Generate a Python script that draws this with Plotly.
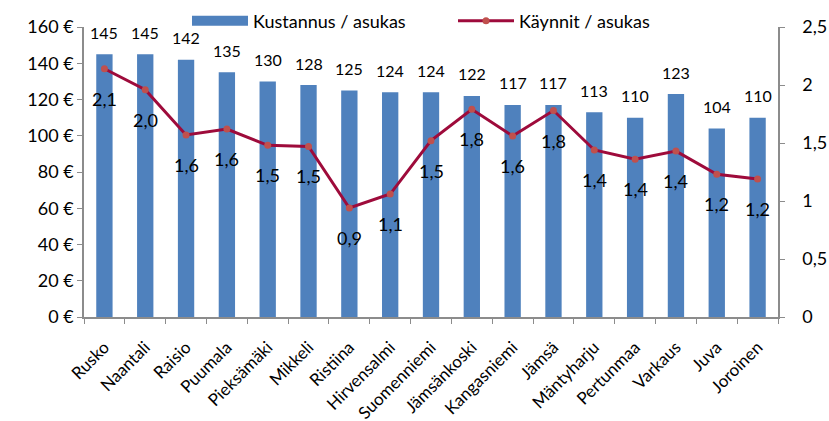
import plotly.graph_objects as go

# Municipalities and their per-resident figures
kunnat = ["Rusko", "Naantali", "Raisio", "Puumala", "Pieksämäki", "Mikkeli",
          "Ristiina", "Hirvensalmi", "Suomenniemi", "Jämsänkoski", "Kangasniemi",
          "Jämsä", "Mäntyharju", "Pertunmaa", "Varkaus", "Juva", "Joroinen"]
kustannus = [145, 145, 142, 135, 130, 128, 125, 124, 124, 122, 117, 117, 113, 110, 123, 104, 110]
kaynnit = [2.14, 1.96, 1.57, 1.62, 1.48, 1.47, 0.94, 1.06, 1.52, 1.79, 1.56, 1.78,
           1.44, 1.36, 1.43, 1.23, 1.19]

FONT = "Lato, 'Open Sans', sans-serif"
BAR_COLOR = "#4F81BD"
LINE_COLOR = "#9E0B3B"
MARKER_COLOR = "#C0504D"
AXIS_COLOR = "#8C8C8C"

fig = go.Figure()

fig.add_trace(go.Bar(
    x=kunnat, y=kustannus, name="Kustannus / asukas",
    marker=dict(color=BAR_COLOR, line=dict(width=0)),
    width=0.4, showlegend=False,
))

# Wide band swatch for the bar series in the legend (no visible points)
fig.add_trace(go.Scatter(
    x=[kunnat[0]], y=[None], name="Kustannus / asukas", mode="lines",
    line=dict(color=BAR_COLOR, width=10), hoverinfo="skip",
))

fig.add_trace(go.Scatter(
    x=kunnat, y=kaynnit, name="Käynnit / asukas", yaxis="y2",
    mode="lines+markers",
    line=dict(color=LINE_COLOR, width=3),
    marker=dict(color=MARKER_COLOR, size=7),
))

annotations = []
for k, v in zip(kunnat, kustannus):
    annotations.append(dict(
        x=k, y=v, xref="x", yref="y", text=str(v), showarrow=False,
        yshift=22, font=dict(family=FONT, size=16, color="#000000"),
    ))
for k, v in zip(kunnat, kaynnit):
    annotations.append(dict(
        x=k, y=v, xref="x", yref="y2", text=f"{v:.1f}".replace(".", ","),
        showarrow=False, yshift=-30,
        font=dict(family=FONT, size=18, color="#000000"),
    ))

fig.update_layout(
    width=829, height=421,
    margin=dict(l=84, r=51, t=27, b=104, autoexpand=False),
    plot_bgcolor="white", paper_bgcolor="white",
    separators=", ",
    font=dict(family=FONT, size=18, color="#000000"),
    showlegend=True,
    legend=dict(
        orientation="h", xref="container", yref="container",
        x=187 / 829, y=1 - 21 / 421, xanchor="left", yanchor="middle",
        font=dict(family=FONT, size=18), bgcolor="rgba(0,0,0,0)",
        itemwidth=56, entrywidth=195, entrywidthmode="pixels",
    ),
    xaxis=dict(
        type="category", categoryorder="array", categoryarray=kunnat,
        range=[-0.5, len(kunnat) - 0.5],
        tickangle=-45, tickson="boundaries",
        showline=True, linecolor=AXIS_COLOR, linewidth=1.5,
        ticks="outside", ticklen=5, tickcolor=AXIS_COLOR,
        tickfont=dict(family=FONT, size=17), ticklabelstandoff=12,
        showgrid=False, zeroline=False, automargin=False,
    ),
    yaxis=dict(
        range=[0, 160], dtick=20, ticksuffix=" €",
        showline=True, linecolor=AXIS_COLOR, linewidth=1.5,
        ticks="outside", ticklen=5, tickcolor=AXIS_COLOR,
        tickfont=dict(family=FONT, size=18),
        showgrid=False, zeroline=False, automargin=False,
    ),
    yaxis2=dict(
        range=[0, 2.5], dtick=0.5, overlaying="y", side="right",
        showline=True, linecolor=AXIS_COLOR, linewidth=1.5,
        ticks="outside", ticklen=5, tickcolor=AXIS_COLOR,
        tickfont=dict(family=FONT, size=18), ticklabelstandoff=14,
        showgrid=False, zeroline=False, automargin=False,
    ),
    annotations=annotations,
)

fig.write_html("out.html")
